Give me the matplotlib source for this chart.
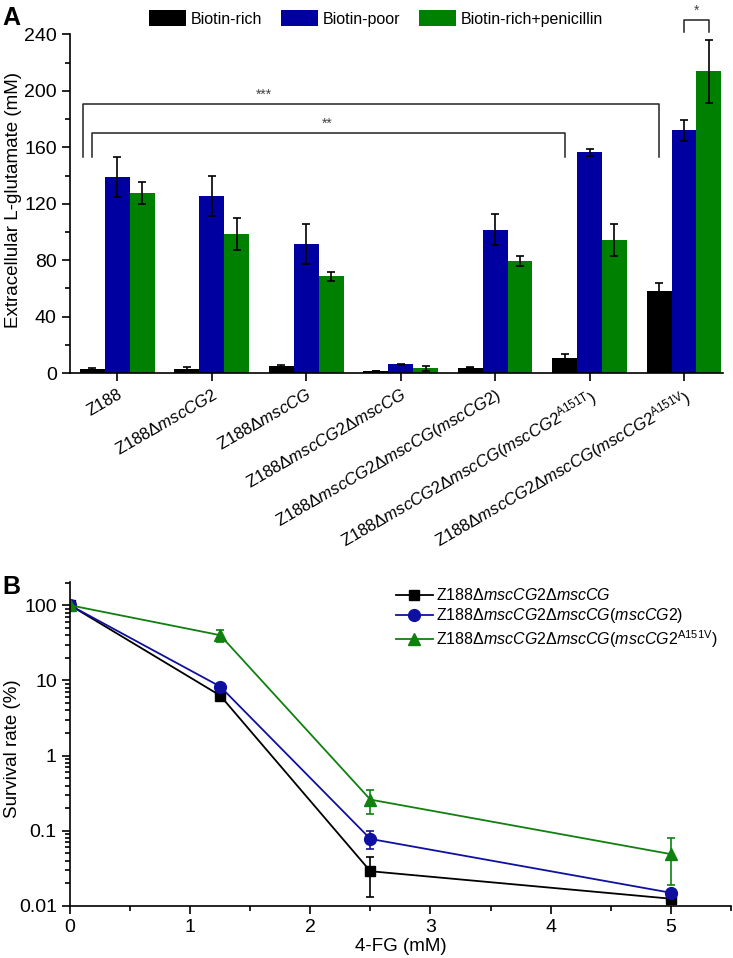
import numpy as np
import matplotlib
matplotlib.use("Agg")
import matplotlib.pyplot as plt
from matplotlib.ticker import MultipleLocator, LogLocator, NullFormatter

plt.rcParams['font.family'] = ['Liberation Sans', 'DejaVu Sans']
plt.rcParams['mathtext.fontset'] = 'custom'
plt.rcParams['mathtext.rm'] = 'Liberation Sans'
plt.rcParams['mathtext.it'] = 'Liberation Sans:italic'
plt.rcParams['mathtext.bf'] = 'Liberation Sans:bold'

# panel A data
strains = [
    "Z188",
    "Z188Δ$\\it{mscCG2}$",
    "Z188Δ$\\it{mscCG}$",
    "Z188Δ$\\it{mscCG2}$Δ$\\it{mscCG}$",
    "Z188Δ$\\it{mscCG2}$Δ$\\it{mscCG}$($\\it{mscCG2}$)",
    "Z188Δ$\\it{mscCG2}$Δ$\\it{mscCG}$($\\it{mscCG2}^{\\rm{A151T}}$)",
    "Z188Δ$\\it{mscCG2}$Δ$\\it{mscCG}$($\\it{mscCG2}^{\\rm{A151V}}$)",
]
rich = [3.0, 3.0, 4.8, 1.5, 3.8, 11.0, 58.5]
rich_err = [0.6, 1.5, 1.0, 0.3, 0.4, 2.6, 5.5]
poor = [139, 125.5, 91.5, 6.2, 101.5, 156.5, 172]
poor_err = [14.5, 14.5, 14.5, 0.3, 11, 2.4, 7.5]
pen = [127.5, 98.5, 68.5, 3.3, 79.5, 94.5, 214]
pen_err = [8, 11.2, 3.3, 2.0, 3.3, 11.4, 22.3]

# panel B data
fg = [0, 1.25, 2.5, 5]
series_names = [
    "Z188Δ$\\it{mscCG2}$Δ$\\it{mscCG}$",
    "Z188Δ$\\it{mscCG2}$Δ$\\it{mscCG}$($\\it{mscCG2}$)",
    "Z188Δ$\\it{mscCG2}$Δ$\\it{mscCG}$($\\it{mscCG2}^{\\rm{A151V}}$)",
]
dko = [100, 6.3, 0.029, 0.0125]
dko_lo = [0, 0.5, 0.016, 0.0008]
dko_hi = [0, 0.5, 0.016, 0.0008]
comp = [100, 8.3, 0.078, 0.015]
comp_lo = [0, 0.6, 0.021, 0.0015]
comp_hi = [0, 0.6, 0.021, 0.0015]
mut = [100, 40, 0.26, 0.049]
mut_lo = [0, 8, 0.095, 0.030]
mut_hi = [0, 7, 0.085, 0.030]

blue = "#0000A0"
green = "#008000"

fig = plt.figure(figsize=(7.33, 9.58), dpi=100)

# ---------------- A
ax = fig.add_axes([0.0955, 0.6106, 0.8905, 0.3534])
x = np.arange(len(strains))
w = 0.264
ekw = dict(ecolor="black", elinewidth=1.2, capsize=3, capthick=1.2)
ax.bar(x - w, rich, w, color="black", yerr=rich_err, error_kw=ekw, label="Biotin-rich")
ax.bar(x, poor, w, color=blue, yerr=poor_err, error_kw=ekw, label="Biotin-poor")
ax.bar(x + w, pen, w, color=green, yerr=pen_err, error_kw=ekw, label="Biotin-rich+penicillin")

ax.set_xlim(-0.5, 6.41)
ax.set_ylim(0, 240)
ax.yaxis.set_major_locator(MultipleLocator(40))
ax.yaxis.set_minor_locator(MultipleLocator(20))
ax.set_xticks(x)
ax.set_xticklabels(strains, rotation=30, ha="right", va="top", rotation_mode="anchor", fontsize=12)
ax.tick_params(axis="y", labelsize=14, length=6, width=1.2)
ax.tick_params(axis="y", which="minor", length=3.5, width=1.2)
ax.tick_params(axis="x", length=6, width=1.2)
for s in ["top", "right"]:
    ax.spines[s].set_visible(False)
for s in ["left", "bottom"]:
    ax.spines[s].set_linewidth(1.2)
ax.set_ylabel("Extracellular L-glutamate (mM)", fontsize=13.5)
ax.yaxis.set_label_coords(-0.073, 0.51)

# significance brackets
bc = "#222222"
def bracket(x0, x1, y, ylo, txt, tx=None):
    ax.plot([x0, x0, x1, x1], [ylo, y, y, ylo], color=bc, lw=1.1, clip_on=False)
    if tx is None:
        tx = (x0 + x1) / 2
    ax.text(tx, y + 1.5, txt, ha="center", va="bottom", fontsize=10, color="#444444")

bracket(-0.367, 5.736, 191, 153.5, "***", tx=1.55)
bracket(-0.264, 4.736, 170.5, 153.5, "**", tx=2.22)
bracket(6.0, 6.264, 250.5, 242, "*")

fig.legend(loc="center left", bbox_to_anchor=(0.203, 0.9807), ncol=3, frameon=False,
           fontsize=11.5, handlelength=2.3, handleheight=1.1, handletextpad=0.3,
           columnspacing=1.2, borderpad=0, borderaxespad=0)

fig.text(0.003, 0.981, "A", fontsize=18, fontweight="bold", va="center")

# ---------------- B
bx = fig.add_axes([0.0955, 0.0543, 0.9015, 0.3382])
styles = [("black", "s", 7), ("#1010A0", "o", 8.5), ("#108010", "^", 9)]
vals = [(dko, dko_lo, dko_hi), (comp, comp_lo, comp_hi), (mut, mut_lo, mut_hi)]
for (c, m, ms), (v, lo, hi), name in zip(styles, vals, series_names):
    bx.errorbar(fg, v, yerr=[lo, hi], fmt="none", ecolor=c, elinewidth=1.2,
                capsize=3, capthick=1.2)
    bx.plot(fg, v, color=c, marker=m, ms=ms, lw=1.3, label=name)
bx.set_yscale("log")
bx.set_ylim(0.01, 204)
bx.set_xlim(0, 5.5)
bx.set_yticks([0.01, 0.1, 1, 10, 100])
bx.set_yticklabels(["0.01", "0.1", "1", "10", "100"])
bx.yaxis.set_minor_locator(LogLocator(base=10, subs=np.arange(2, 10)))
bx.yaxis.set_minor_formatter(NullFormatter())
bx.xaxis.set_major_locator(MultipleLocator(1))
bx.xaxis.set_minor_locator(MultipleLocator(0.5))
bx.tick_params(labelsize=14, length=6, width=1.2)
bx.tick_params(which="minor", length=3.5, width=1.2)
for s in ["top", "right"]:
    bx.spines[s].set_visible(False)
for s in ["left", "bottom"]:
    bx.spines[s].set_linewidth(1.2)
bx.set_xlabel("4-FG (mM)", fontsize=13.5, labelpad=1)
bx.set_ylabel("Survival rate (%)", fontsize=13.5)
bx.yaxis.set_label_coords(-0.074, 0.485)
bx.legend(loc="upper left", bbox_to_anchor=(0.54, 0.387), bbox_transform=fig.transFigure,
          frameon=False, fontsize=11.5, handlelength=2.3, handletextpad=0.2,
          labelspacing=0.18, borderpad=0, borderaxespad=0)

fig.text(0.003, 0.387, "B", fontsize=18, fontweight="bold", va="center")

fig.savefig("out.png", dpi=100)
